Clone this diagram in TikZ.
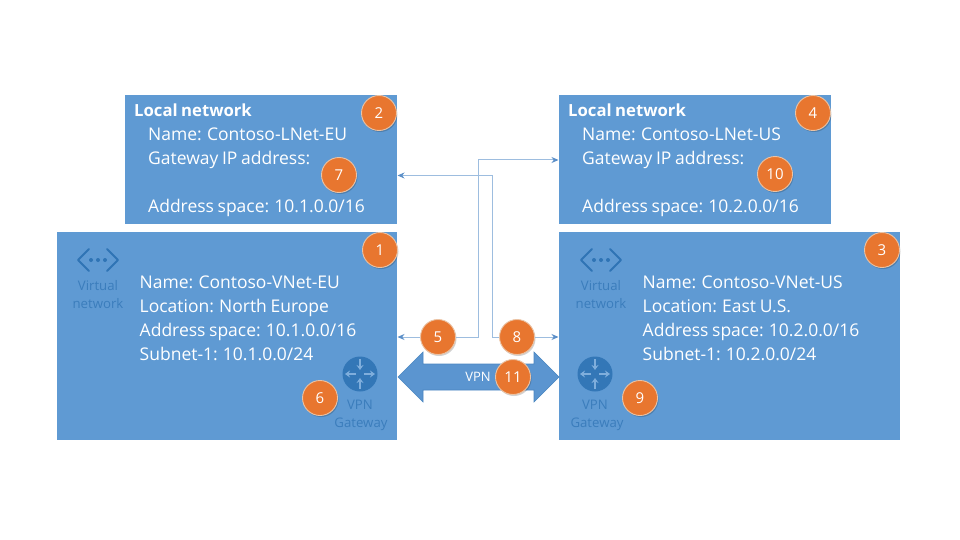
\documentclass[tikz,border=0pt]{standalone}
\usepackage{fontspec}
\setmainfont[WordSpace=0.8]{Open Sans}
\usetikzlibrary{arrows.meta,shadows,calc}
\definecolor{boxblue}{HTML}{5F9AD3}
\definecolor{arrowblue}{HTML}{5B95D0}
\definecolor{arrowedge}{HTML}{4A86C0}
\definecolor{linkblue}{HTML}{9DBDDF}
\definecolor{tipblue}{HTML}{5B8FC8}
\definecolor{iconblue}{HTML}{2F74B5}
\definecolor{badgeorange}{HTML}{E8762F}
\definecolor{badgeedge}{HTML}{EBC3A4}
\tikzset{
  netbox/.style={fill=boxblue,draw=none,minimum width=#1,inner sep=0pt,anchor=north west},
  boxtext/.style={anchor=west,inner sep=0pt,text height=17pt,text depth=4pt,text=white,font=\fontsize{17.5}{20}\selectfont},
  boxhead/.style={boxtext,font=\fontsize{16.7}{20}\selectfont\bfseries},
  badge/.style={circle,fill=badgeorange,draw=badgeedge,line width=0.9pt,minimum size=35pt,inner sep=0pt,
     text=white,font=\fontsize{15}{16}\selectfont,
     drop shadow={shadow xshift=1pt,shadow yshift=-1.5pt,opacity=0.18,fill=black}},
  icontext/.style={inner sep=0pt,text=iconblue!75!boxblue,font=\fontsize{13.2}{14}\selectfont},
  link/.style={draw=linkblue,line width=1pt},
  tipped/.style={link,-{Stealth[length=7pt,width=6pt,color=tipblue]}},
  chev/.style={draw=iconblue,line width=2pt,line cap=round,line join=round},
  gwcircle/.style={circle,fill=iconblue!92!boxblue,draw=none,minimum size=35pt,inner sep=0pt},
  gwarrow/.style={draw=boxblue!80!white,line width=1.8pt,-{Stealth[length=5pt,width=7pt]}},
}
\begin{document}
\begin{tikzpicture}[x=1pt,y=-1pt]
\useasboundingbox (0,0) rectangle (960,540);
% boxes
\node[netbox=272pt,minimum height=129pt] (lneteu) at (125,95) {};
\node[netbox=272pt,minimum height=129pt] (lnetus) at (559,95) {};
\node[netbox=340pt,minimum height=208pt] (vneteu) at (57,232) {};
\node[netbox=341pt,minimum height=208pt] (vnetus) at (559,232) {};
% box texts
\node[boxhead] (t1) at (134,110) {Local network};
\node[boxtext] (t2) at (148,134) {Name: Contoso-LNet-EU};
\node[boxtext] (t3) at (148,158) {Gateway IP address:};
\node[boxtext] (t4) at (148,206) {Address space: 10.1.0.0/16};
\node[boxhead] (t5) at (568,110) {Local network};
\node[boxtext] (t6) at (582,134) {Name: Contoso-LNet-US};
\node[boxtext] (t7) at (582,158) {Gateway IP address:};
\node[boxtext] (t8) at (582,206) {Address space: 10.2.0.0/16};
\node[boxtext] (t9) at (139.5,282) {Name: Contoso-VNet-EU};
\node[boxtext] (t10) at (139.5,306) {Location: North Europe};
\node[boxtext] (t11) at (139.5,330) {Address space: 10.1.0.0/16};
\node[boxtext] (t12) at (139.5,354) {Subnet-1: 10.1.0.0/24};
\node[boxtext] (t13) at (642.5,282) {Name: Contoso-VNet-US};
\node[boxtext] (t14) at (642.5,306) {Location: East U.S.};
\node[boxtext] (t15) at (642.5,330) {Address space: 10.2.0.0/16};
\node[boxtext] (t16) at (642.5,354) {Subnet-1: 10.2.0.0/24};
% vnet icons
\foreach \cx/\nm in {98/a,601/b}{
  \begin{scope}[shift={(\cx,260)}]
    \draw[chev] (-9,-11) -- (-20,0) -- (-9,11);
    \draw[chev] (9,-11) -- (20,0) -- (9,11);
    \fill[iconblue] (-7,0) circle (2pt) (0,0) circle (2pt) (7,0) circle (2pt);
  \end{scope}
  \node[icontext] (vt\nm) at (\cx,286) {Virtual};
  \node[icontext] (vn\nm) at (\cx,304) {network};
}
% gateway icons
\foreach \cx/\tx/\nm in {360/361/a,595/597/b}{
  \node[gwcircle] (gw\nm) at (\cx,374) {};
  \draw[gwarrow] ($(gw\nm)+(0,-15)$) -- ($(gw\nm)+(0,-4)$);
  \draw[gwarrow] ($(gw\nm)+(0,15)$) -- ($(gw\nm)+(0,4)$);
  \draw[gwarrow] ($(gw\nm)+(-4,0)$) -- ($(gw\nm)+(-15,0)$);
  \draw[gwarrow] ($(gw\nm)+(4,0)$) -- ($(gw\nm)+(15,0)$);
  \node[icontext] (gv\nm) at (\cx,405) {VPN};
  \node[icontext] (gg\nm) at (\tx,424.5) {Gateway};
}
% VPN double arrow
\filldraw[fill=arrowblue,draw=arrowedge,line width=0.6pt,line join=miter]
  (398,377) -- (423,352) -- (423,364) -- (534,364) -- (534,352) -- (559,377)
  -- (534,402) -- (534,390) -- (423,390) -- (423,402) -- cycle;
\node[inner sep=0pt,text=white,font=\fontsize{13}{14}\selectfont] (vpn) at (478,377) {VPN};
% badges
\node[badge] (b1) at (380,250) {1};
\node[badge] (b2) at (379,113) {2};
\node[badge] (b3) at (882,250) {3};
\node[badge] (b4) at (813,113) {4};
\node[badge] (b5) at (438,337) {5};
\node[badge] (b6) at (320,398) {6};
\node[badge] (b7) at (339,175) {7};
\node[badge] (b8) at (517,337) {8};
\node[badge] (b9) at (640,398) {9};
\node[badge] (b10) at (775,174) {10};
\node[badge] (b11) at (513,377) {11};
% connectors
\coordinate (e5) at (397.5,337);
\coordinate (e7) at (397.5,175.5);
\coordinate (e8) at (558.5,337);
\coordinate (e10) at (558.5,160);
\coordinate (bendA) at (478,337);
\coordinate (bendB) at (478,160);
\coordinate (bendC) at (492,175.5);
\coordinate (bendD) at (492,337);
\draw[tipped] (b5) -- (e5);
\draw[tipped] (b5) -- (bendA) -- (bendB) -- (e10);
\draw[tipped] (b8) -- (bendD) -- (bendC) -- (e7);
\draw[tipped] (b8) -- (e8);
\end{tikzpicture}
\end{document}
